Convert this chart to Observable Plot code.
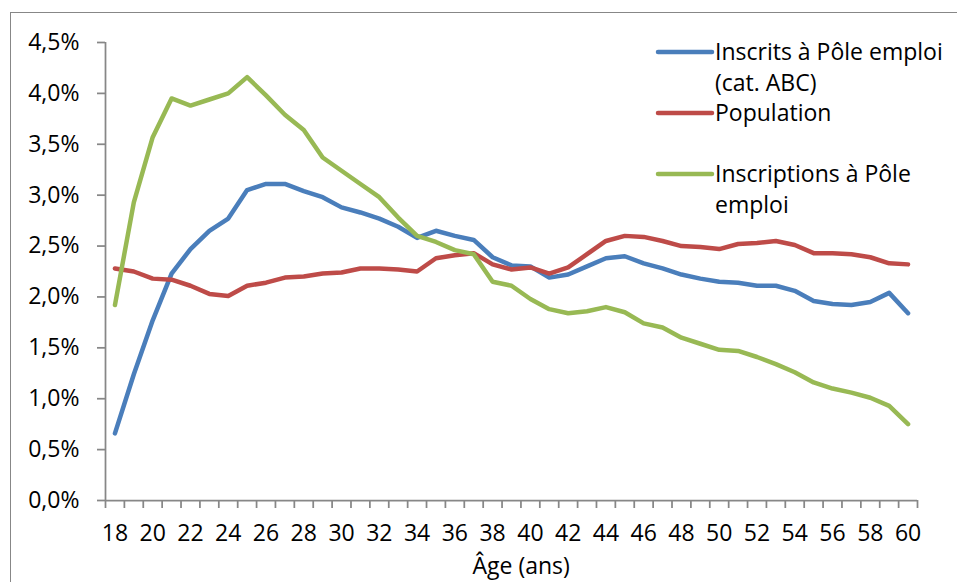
<!DOCTYPE html>
<html>
<head>
<meta charset="utf-8">
<script src="https://cdn.jsdelivr.net/npm/d3@7"></script>
<script src="https://cdn.jsdelivr.net/npm/@observablehq/plot@0.6"></script>
<style>
  html, body { margin: 0; padding: 0; background: #fff; }
  #wrap { position: relative; width: 957px; height: 582px; overflow: hidden; font-family: "Open Sans", sans-serif; }
  #border { position: absolute; left: 10px; top: 12px; width: 2000px; height: 2000px; border-left: 1.75px solid #878787; border-top: 1.75px solid #878787; box-sizing: border-box; }
  #chart { position: absolute; left: 0; top: 0; }
  .leg { position: absolute; font-size: 23px; line-height: 31px; color: #000; white-space: nowrap; }
  .sw { position: absolute; }
  #xlabel { position: absolute; font-size: 23px; color: #000; white-space: nowrap; }
</style>
</head>
<body>
<div id="wrap">
  <div id="border"></div>
  <div id="chart"></div>
</div>
<script>
// Categories (age in years)
const ages = [18,19,20,21,22,23,24,25,26,27,28,29,30,31,32,33,34,35,36,37,38,39,40,41,42,43,44,45,46,47,48,49,50,51,52,53,54,55,56,57,58,59,60];

// Series values (percent)
const inscrits = [0.66,1.24,1.77,2.23,2.47,2.65,2.77,3.05,3.11,3.11,3.04,2.98,2.88,2.83,2.77,2.69,2.58,
  2.65,2.60,2.56,2.39,2.31,2.30,2.19,2.22,2.30,2.38,2.40,2.33,2.28,2.22,2.18,2.15,2.14,2.11,2.11,2.06,1.96,1.93,1.92,1.95,2.04,1.84];
const population = [2.28,2.25,2.18,2.17,2.11,2.03,2.01,2.11,2.14,2.19,2.20,2.23,2.24,2.28,2.28,2.27,2.25,
  2.38,2.41,2.43,2.32,2.27,2.29,2.23,2.29,2.42,2.55,2.60,2.59,2.55,2.50,2.49,2.47,2.52,2.53,2.55,2.51,2.43,2.43,2.42,2.39,2.33,2.32];
const inscriptions = [1.92,2.93,3.57,3.95,3.88,3.94,4.00,4.16,3.98,3.79,3.64,3.37,3.24,3.11,2.98,2.78,2.60,
  2.54,2.46,2.42,2.15,2.11,1.98,1.88,1.84,1.86,1.90,1.85,1.74,1.70,1.60,1.54,1.48,1.47,1.41,1.34,1.26,1.16,1.10,1.06,1.01,0.93,0.75];

// Series names and colours
const seriesNames = ["Inscrits à Pôle emploi (cat. ABC)", "Population", "Inscriptions à Pôle emploi"];
const legendLines = [["Inscrits à Pôle emploi", "(cat. ABC)"], ["Population"], ["Inscriptions à Pôle", "emploi"]];
const colors = ["#4A7EBB", "#BE4B48", "#98B954"];

// Tick labels
const yTicks = [0, 0.5, 1, 1.5, 2, 2.5, 3, 3.5, 4, 4.5];
const xLabelTicks = [18,20,22,24,26,28,30,32,34,36,38,40,42,44,46,48,50,52,54,56,58,60];
const xTitle = "Âge (ans)";

const allSeries = [inscrits, population, inscriptions];
const rows = [];
allSeries.forEach((vals, s) => ages.forEach((a, i) => rows.push({age: a, value: vals[i], series: seriesNames[s]})));

// category boundaries for the tick marks
const xDomain = [ages[0] - 0.5, ages[ages.length - 1] + 0.5];
const boundaries = [...ages.map(a => a - 0.5), ages[ages.length - 1] + 0.5];

const axisColor = "#878787";
const fmt = d => d.toFixed(1).replace(".", ",") + "%";

const chart = Plot.plot({
  width: 957,
  height: 582,
  marginLeft: 105,
  marginRight: 40,
  marginTop: 42,
  marginBottom: 82,
  style: {fontFamily: "Open Sans, sans-serif", fontSize: "23px", color: "#000", background: "transparent", overflow: "visible"},
  x: {type: "linear", domain: xDomain},
  y: {domain: [0, 4.5]},
  color: {domain: seriesNames, range: colors},
  marks: [
    Plot.axisY({ticks: yTicks, tickSize: 8, tickPadding: 18, tickFormat: fmt, stroke: axisColor, strokeWidth: 1.75, strokeOpacity: 1, fill: "#000", label: null, fontSize: 23}),
    Plot.axisX({ticks: boundaries, tickSize: 8, tickFormat: () => "", stroke: axisColor, strokeWidth: 1.75, strokeOpacity: 1, label: null}),
    Plot.axisX({ticks: xLabelTicks, tickSize: 0, tickPadding: 24, tickFormat: d => String(d), fill: "#000", label: null, fontSize: 23}),
    Plot.ruleX([xDomain[0]], {stroke: axisColor, strokeWidth: 1.75}),
    Plot.ruleY([0], {stroke: axisColor, strokeWidth: 1.75}),
    Plot.line(rows, {x: "age", y: "value", z: "series", stroke: "series", strokeWidth: 4.5, strokeLinejoin: "round", strokeLinecap: "round"})
  ]
});
document.getElementById("chart").appendChild(chart);

// Legend (HTML overlay)
const wrap = document.getElementById("wrap");
const legendPos = [{lineY: 52, textTop: 36}, {lineY: 113, textTop: 97}, {lineY: 174, textTop: 158}];
legendLines.forEach((lines, i) => {
  const svg = document.createElementNS("http://www.w3.org/2000/svg", "svg");
  svg.setAttribute("class", "sw");
  svg.setAttribute("width", 70);
  svg.setAttribute("height", 12);
  svg.style.left = "650px";
  svg.style.top = (legendPos[i].lineY - 6) + "px";
  const ln = document.createElementNS("http://www.w3.org/2000/svg", "line");
  ln.setAttribute("x1", 8); ln.setAttribute("x2", 62);
  ln.setAttribute("y1", 6); ln.setAttribute("y2", 6);
  ln.setAttribute("stroke", colors[i]);
  ln.setAttribute("stroke-width", 4.5);
  ln.setAttribute("stroke-linecap", "round");
  svg.appendChild(ln);
  wrap.appendChild(svg);
  const div = document.createElement("div");
  div.className = "leg";
  div.style.left = "715px";
  div.style.top = legendPos[i].textTop + "px";
  div.innerHTML = lines.map(t => t.replace(/&/g, "&amp;")).join("<br>");
  wrap.appendChild(div);
});

const xl = document.createElement("div");
xl.id = "xlabel";
xl.textContent = xTitle;
wrap.appendChild(xl);
xl.style.left = (521 - xl.offsetWidth / 2) + "px";
xl.style.top = "549px";
</script>
</body>
</html>
